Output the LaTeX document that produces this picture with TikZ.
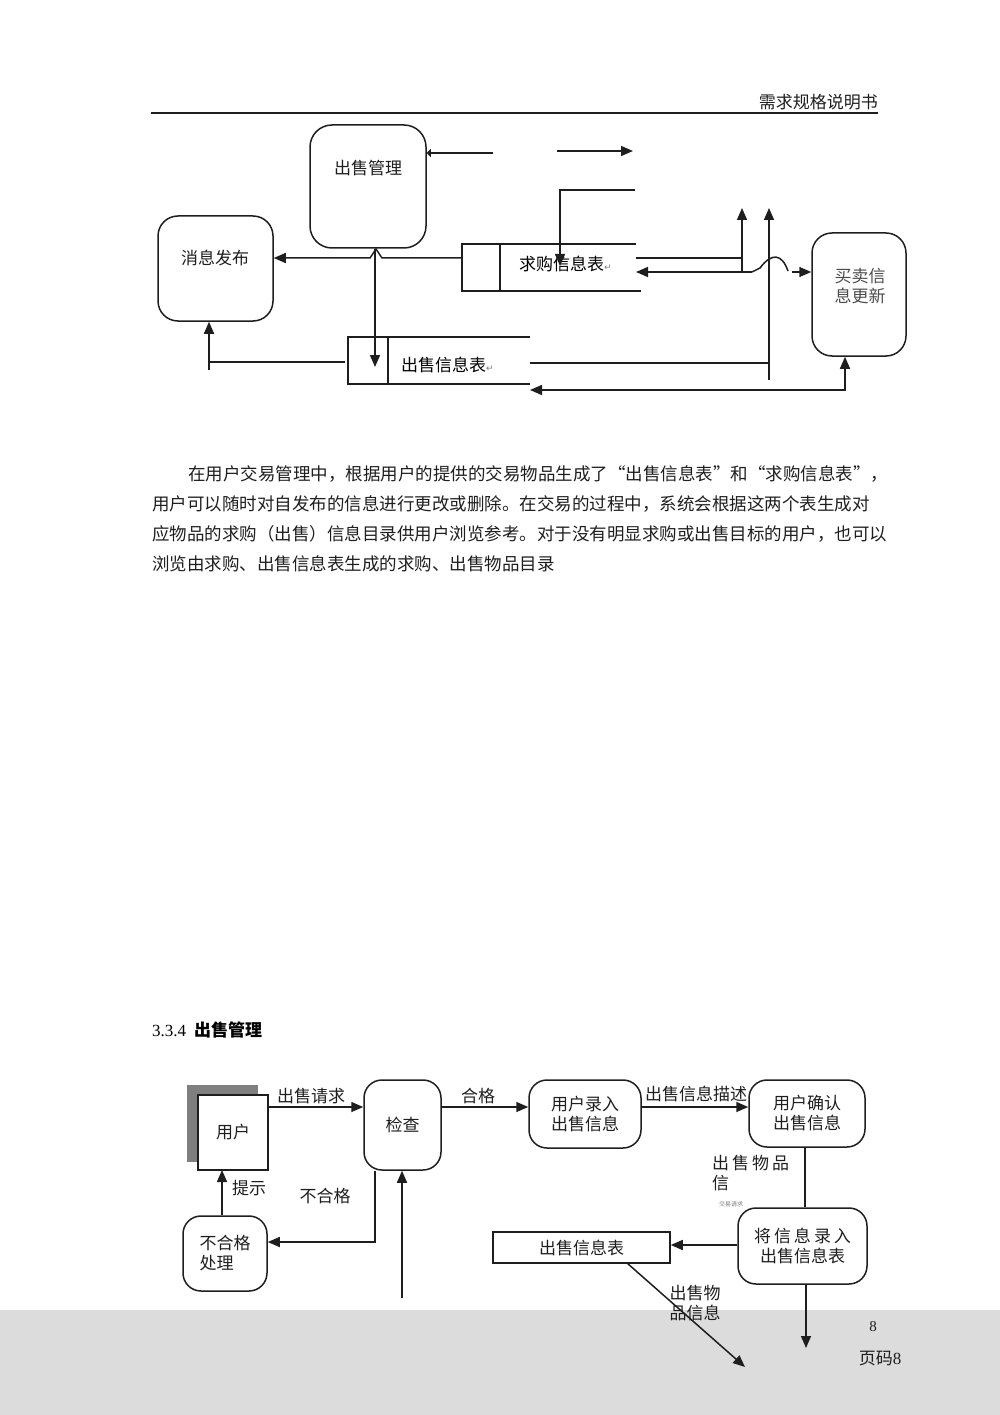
\documentclass[tikz,border=0pt]{standalone}
\usepackage{fontspec}
\setmainfont{Noto Sans CJK SC}
\newfontfamily\latfont{Liberation Serif}
\newfontfamily\retfont{DejaVu Sans}
\usetikzlibrary{arrows.meta,positioning}
\definecolor{footgray}{HTML}{DCDCDC}
\definecolor{shadegray}{HTML}{7F7F7F}
\definecolor{inkgray}{HTML}{1E1E1E}
\tikzset{
  flow/.style={line width=1.5pt, draw=inkgray},
  arr/.style={flow, -{Triangle[length=12pt,width=10pt]}},
  tiparr/.style={flow, -{Triangle[length=4pt,width=8pt]}},
  proc/.style={draw=inkgray, line width=1.5pt, rounded corners=18pt, inner sep=0pt, align=center,
    text=inkgray, font=\fontsize{17}{20}\selectfont},
  lbl/.style={text=inkgray, font=\fontsize{17}{20}\selectfont, inner sep=0pt, align=center},
  para/.style={text=inkgray, font=\fontsize{17.5}{30}\selectfont, inner sep=0pt, anchor=base west}
}
\newcommand{\retmark}{{\retfont\color{gray}\fontsize{9}{9}\selectfont ↵}}
\newcommand{\gapsp}{\hspace{3pt}}

\begin{document}
\begin{tikzpicture}[x=1pt, y=-1pt]
  \useasboundingbox (0,0) rectangle (1000,1415);

  % footer band
  \fill[footgray] (0,1310) rectangle (1000,1415);

  % header
  \node[lbl, anchor=base east] (head) at (878,109) {需求规格说明书};
  \draw[line width=1.8pt, draw=inkgray] (151,113) -- (878,113);

  % processes of the upper chart
  \node[proc, rounded corners=22pt, minimum width=116pt, minimum height=123pt] (sale) at (368,186.5) {};
  \node[lbl] (saletext) at (368,168) {出售管理};
  \node[proc, rounded corners=20pt, minimum width=115pt, minimum height=105pt] (news) at (215.5,268.5) {};
  \node[lbl] (newstext) at (215,258) {消息发布};
  \node[proc, rounded corners=20pt, minimum width=94pt, minimum height=123pt] (upd) at (859,294.5) {};
  \node[lbl, text=black!70] (updtext) at (860,286) {买卖信\\息更新};

  % purchase table
  \draw[flow] (636,244) -- (462,244) -- (462,291) -- (641,291);
  \draw[flow] (500,244) -- (500,291);
  \node[lbl, anchor=west, text=black] (want) at (519,264) {求购信息表\retmark};

  % sale table
  \draw[flow] (530,337) -- (348,337) -- (348,384) -- (530,384);
  \draw[flow] (388,337) -- (388,384);
  \node[lbl, anchor=west, text=black] (offer) at (401,365) {出售信息表\retmark};

  % free ends
  \coordinate (wantin) at (462,258);
  \coordinate (hopa) at (382,258);
  \coordinate (hopb) at (370,258);
  \coordinate (downx) at (375,367);
  \coordinate (upa) at (742,208);
  \coordinate (upb) at (769,208);
  \coordinate (backrow) at (769,363);
  \coordinate (leftfoot) at (209,362);
  \coordinate (updfoot) at (845,390);

  % connectors of the upper chart
  \draw[tiparr] (493,153) -- (sale.east |- 0,153);
  \draw[arr] (557,151) -- (633,151);
  \draw[arr] (635,190) -- (560,190) -- (560,266);
  \draw[arr] (wantin) -- (hopa) -- (376,249) -- (hopb) -- (news.east |- wantin);
  \draw[arr] (sale.south -| downx) -- (downx);
  \draw[flow] (636,258) -- (742,258);
  \draw[arr] (742,273) -- (upa);
  \draw[arr] (769,380) -- (upb);
  \draw[arr] (752,272) -- (636,272);
  \draw[flow] (752,272) -- (760,268) .. controls (772,252) and (782,254) .. (788,271);
  \draw[arr] (792,272) -- (upd.west |- 0,272);
  \draw[flow] (530,363) -- (backrow);
  \draw[arr] (345,362) -- (leftfoot) -- (news.south -| leftfoot);
  \draw[flow] (leftfoot) -- (209,370);
  \draw[flow, {Triangle[length=12pt,width=10pt]}-{Triangle[length=12pt,width=10pt]}]
    (upd.south -| updfoot) -- (updfoot) -- (530,390);

  % text
  \node[para] (line1) at (188,480) {在用户交易管理中，根据用户的提供的交易物品生成了“出售信息表”和“求购信息表”，};
  \node[para] (line2) at (152,510) {用户可以随时对自发布的信息进行更改或删除。在交易的过程中，系统会根据这两个表生成对};
  \node[para] (line3) at (152,540) {应物品的求购（出售）信息目录供用户浏览参考。对于没有明显求购或出售目标的用户，也可以};
  \node[para] (line4) at (152,570) {浏览由求购、出售信息表生成的求购、出售物品目录};

  % heading
  \node[anchor=base west, inner sep=0pt, text=black, font=\fontsize{17}{20}\selectfont]
    (sec) at (152,1036) {{\latfont 3.3.4}\hspace{8pt}{\bfseries 出售管理}};

  % processes of the lower chart
  \fill[shadegray] (187,1085) rectangle (258,1162);
  \node[draw=inkgray, fill=white, line width=1.5pt, minimum width=70pt, minimum height=75pt,
    inner sep=0pt, lbl] (user) at (233,1132.5) {用户};
  \node[proc, minimum width=77pt, minimum height=90pt] (check) at (402.5,1125) {检查};
  \node[proc, minimum width=112pt, minimum height=68pt] (entry) at (585,1114) {用户录入\\出售信息};
  \node[proc, minimum width=116pt, minimum height=67pt] (confirm) at (807,1113.5) {用户确认\\出售信息};
  \node[proc, minimum width=129pt, minimum height=76pt] (store) at (802.5,1246) {将\gapsp 信\gapsp 息\gapsp 录\gapsp 入\\出售信息表};
  \node[proc, minimum width=84pt, minimum height=75pt, align=left] (reject) at (225,1253.5) {不合格\\处理\hspace{17pt}};
  \node[draw=inkgray, line width=1.5pt, minimum width=177pt, minimum height=31pt, inner sep=0pt, lbl]
    (saletab) at (581.5,1247.5) {出售信息表};

  % free ends
  \coordinate (toprow) at (0,1107);
  \coordinate (checkfoot) at (375,1242);
  \coordinate (upfoot) at (402,1298);
  \coordinate (hintx) at (222,1170);
  \coordinate (diaga) at (627,1263);
  \coordinate (diagb) at (745,1367);
  \coordinate (downend) at (806,1348);

  % connectors of the lower chart
  \draw[arr] (user.east |- toprow) -- (check.west |- toprow);
  \draw[arr] (check.east |- toprow) -- (entry.west |- toprow);
  \draw[arr] (entry.east |- toprow) -- (confirm.west |- toprow);
  \draw[flow] (confirm.south -| 805,0) -- (store.north -| 805,0);
  \draw[arr] (store.west |- 0,1245) -- (saletab.east |- 0,1245);
  \draw[arr] (store.south -| downend) -- (downend);
  \draw[arr] (diaga) -- (diagb);
  \draw[arr] (check.south -| checkfoot) -- (checkfoot) -- (reject.east |- checkfoot);
  \draw[arr] (upfoot) -- (check.south -| upfoot);
  \draw[arr] (reject.north -| hintx) -- (hintx);

  % labels of the lower chart
  \node[lbl] (askl) at (311,1096) {出售请求};
  \node[lbl] (passl) at (478,1096) {合格};
  \node[lbl] (descl) at (696,1094) {出售信息描述};
  \node[lbl, anchor=west] (iteml) at (712,1163) {出\gapsp 售\gapsp 物\gapsp 品};
  \node[lbl, anchor=west] (iteml2) at (712,1183) {信};
  \node[lbl, anchor=west, text=gray, font=\fontsize{6}{6}\selectfont] (iteml3) at (719,1204) {交易请求};
  \node[lbl] (faill) at (325,1196) {不合格};
  \node[lbl] (hintl) at (249,1188) {提示};
  \node[lbl] (infol) at (695,1303) {出售物\\品信息};

  % footer
  \node[anchor=base, inner sep=0pt, text=inkgray, font=\latfont\fontsize{15}{15}\selectfont] (pnum) at (873,1331) {8};
  \node[anchor=base, inner sep=0pt, text=inkgray, font=\fontsize{17}{17}\selectfont] (pname) at (880,1364) {页码{\latfont 8}};
\end{tikzpicture}
\end{document}
